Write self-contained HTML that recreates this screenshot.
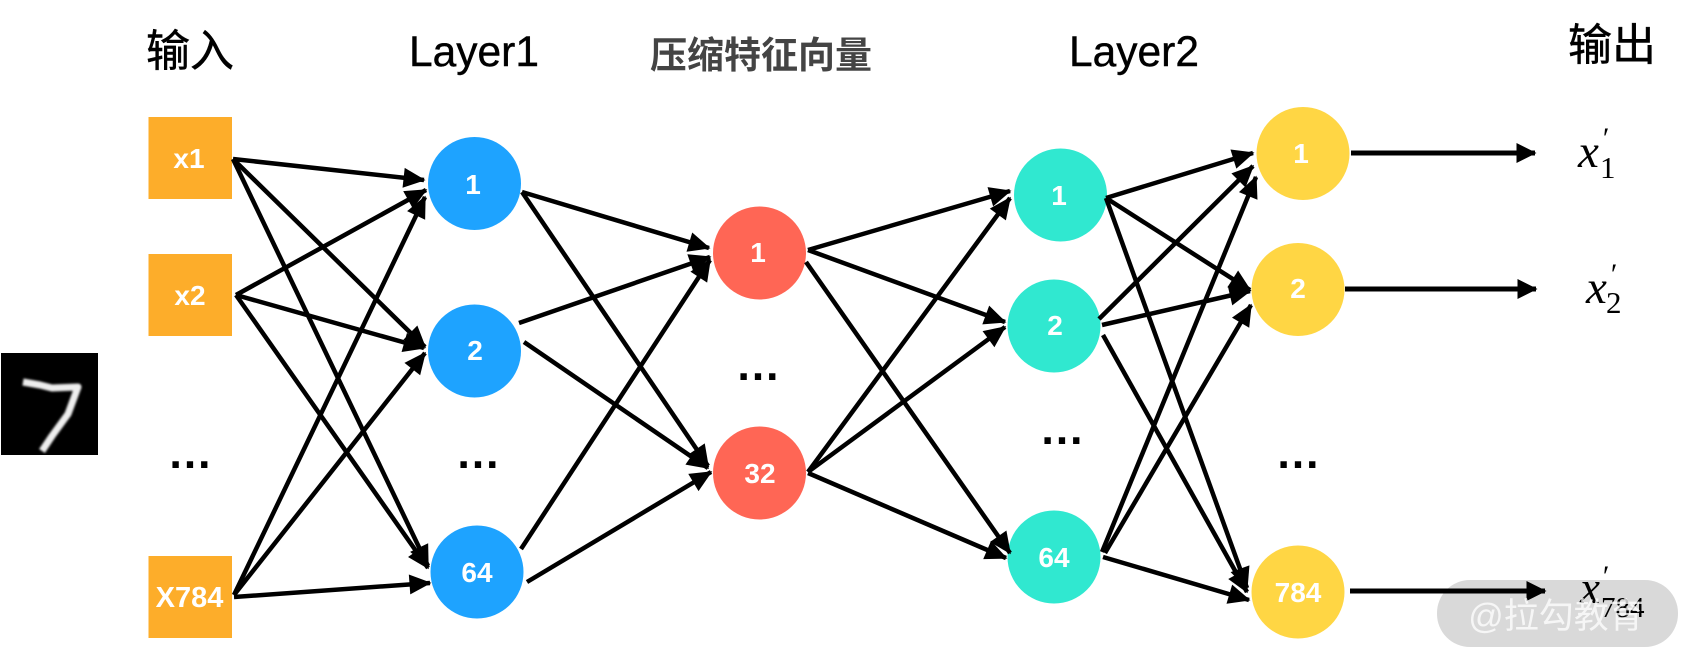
<!DOCTYPE html>
<html><head><meta charset="utf-8">
<style>
html,body{margin:0;padding:0;background:#fff;width:1700px;height:670px;overflow:hidden}
svg{display:block}
text{font-family:"Liberation Sans","Noto Sans CJK SC",sans-serif}
.n{font-weight:bold;fill:#fff;font-size:28px;text-anchor:middle}
.t{font-size:42.500px;fill:#000;stroke:#000;stroke-width:.4;text-anchor:middle}
.c{font-size:44px;fill:#000;stroke:#000;stroke-width:.5;text-anchor:middle}
.d{font-size:45px;font-weight:bold;fill:#000;text-anchor:middle}
.m{font-family:"Liberation Serif",serif}
line{stroke:#000;stroke-width:4.500;marker-end:url(#a)}
</style></head><body>
<svg width="1700" height="670" viewBox="0 0 1700 670" xmlns="http://www.w3.org/2000/svg">
<defs>
<marker id="a" markerUnits="userSpaceOnUse" markerWidth="24" markerHeight="22" refX="20.500" refY="11" orient="auto" overflow="visible"><path d="M0 1 L22 11 L0 21 Z" fill="#000"/></marker>
<marker id="b" markerUnits="userSpaceOnUse" markerWidth="22" markerHeight="22" refX="18.500" refY="11" orient="auto" overflow="visible"><path d="M0 1 L20 11 L0 21 Z" fill="#000"/></marker>
<filter id="s" x="-10%" y="-10%" width="120%" height="120%"><feGaussianBlur stdDeviation="1"/></filter>
</defs>

<rect x="1" y="353" width="97" height="102" fill="#000"/>
<path d="M23 382 L40 385 L52 388 L78 387 L68 414 L52 436 L42 451" fill="none" stroke="#eee" stroke-width="7" stroke-linejoin="round" filter="url(#s)"/>

<rect x="1437" y="580" width="241" height="67" rx="33" fill="#d9d9d9"/>

<rect x="148.500" y="117" width="83.500" height="82" fill="#fdad2a"/>
<rect x="148.500" y="254" width="83.500" height="82" fill="#fdad2a"/>
<rect x="148.500" y="556" width="83.500" height="82" fill="#fdad2a"/>

<ellipse cx="474.500" cy="183.500" rx="46.500" ry="46.500" fill="#1ea3ff"/>
<ellipse cx="474.500" cy="351" rx="46.500" ry="46.500" fill="#1ea3ff"/>
<ellipse cx="477" cy="572" rx="46.500" ry="46.500" fill="#1ea3ff"/>
<ellipse cx="759.500" cy="253" rx="46.500" ry="46.500" fill="#ff6655"/>
<ellipse cx="759.500" cy="473" rx="46.500" ry="46.500" fill="#ff6655"/>
<ellipse cx="1060.500" cy="195" rx="46.500" ry="46.500" fill="#30e8d0"/>
<ellipse cx="1054" cy="326" rx="46.500" ry="46.500" fill="#30e8d0"/>
<ellipse cx="1054" cy="557" rx="46.500" ry="46.500" fill="#30e8d0"/>
<ellipse cx="1303" cy="153.500" rx="46.500" ry="46.500" fill="#ffd644"/>
<ellipse cx="1298" cy="289.500" rx="46.500" ry="46.500" fill="#ffd644"/>
<ellipse cx="1298" cy="592" rx="46.500" ry="46.500" fill="#ffd644"/>

<line x1="233" y1="159" x2="424" y2="180"/>
<line x1="233" y1="159" x2="425" y2="347"/>
<line x1="233" y1="159" x2="428" y2="566"/>
<line x1="236" y1="295" x2="426" y2="190"/>
<line x1="236" y1="295" x2="424" y2="348"/>
<line x1="236" y1="295" x2="428" y2="568"/>
<line x1="234" y1="595" x2="425" y2="197"/>
<line x1="234" y1="595" x2="425" y2="353"/>
<line x1="234" y1="597" x2="430" y2="583"/>

<line x1="522" y1="192" x2="709" y2="248"/>
<line x1="522" y1="192" x2="708" y2="466"/>
<line x1="519" y1="323" x2="710" y2="257"/>
<line x1="524" y1="342" x2="708" y2="468"/>
<line x1="521" y1="549" x2="710" y2="260"/>
<line x1="527" y1="582" x2="711" y2="472"/>

<line x1="808" y1="250" x2="1010" y2="191"/>
<line x1="808" y1="250" x2="1005" y2="322"/>
<line x1="806" y1="262" x2="1010" y2="553"/>
<line x1="808" y1="472" x2="1010" y2="198"/>
<line x1="808" y1="472" x2="1005" y2="327"/>
<line x1="808" y1="473" x2="1006" y2="558"/>

<line x1="1106" y1="198" x2="1253" y2="153"/>
<line x1="1106" y1="198" x2="1250" y2="290"/>
<line x1="1106" y1="198" x2="1247" y2="588"/>
<line x1="1099" y1="319" x2="1253" y2="166"/>
<line x1="1102" y1="325" x2="1250" y2="291"/>
<line x1="1103" y1="335" x2="1247" y2="592"/>
<line x1="1102" y1="552" x2="1256" y2="177"/>
<line x1="1105" y1="553" x2="1251" y2="305"/>
<line x1="1103" y1="557" x2="1249" y2="600"/>

<line x1="1351" y1="153" x2="1535" y2="153" style="marker-end:url(#b);stroke-width:5"/>
<line x1="1345" y1="289" x2="1536" y2="289" style="marker-end:url(#b);stroke-width:5"/>
<line x1="1350" y1="591" x2="1545" y2="591" style="marker-end:url(#b);stroke-width:5"/>

<text class="c" x="190" y="66">输入</text>
<text class="t" x="474" y="66">Layer1</text>
<text x="761" y="68" font-size="37" font-weight="bold" fill="#444" text-anchor="middle">压缩特征向量</text>
<text class="t" x="1134" y="66">Layer2</text>
<text class="c" x="1612" y="60">输出</text>

<text class="n" x="189" y="168">x1</text>
<text class="n" x="190" y="305">x2</text>
<text class="n" x="189.500" y="607" style="font-size:29px">X784</text>
<text class="n" x="473" y="194">1</text>
<text class="n" x="475" y="360">2</text>
<text class="n" x="477" y="582">64</text>
<text class="n" x="758" y="262">1</text>
<text class="n" x="760" y="483">32</text>
<text class="n" x="1059" y="205">1</text>
<text class="n" x="1055" y="335">2</text>
<text class="n" x="1054" y="567">64</text>
<text class="n" x="1301" y="163">1</text>
<text class="n" x="1298" y="298">2</text>
<text class="n" x="1298" y="602">784</text>

<text class="d" x="190" y="468">…</text>
<text class="d" x="478" y="468">…</text>
<text class="d" x="758" y="380">…</text>
<text class="d" x="1062" y="444">…</text>
<text class="d" x="1298" y="468">…</text>

<text class="m" x="1578" y="167" font-size="47" font-style="italic">x</text>
<text class="m" x="1601" y="148" font-size="30" font-style="italic">′</text>
<text class="m" x="1600" y="178" font-size="31">1</text>
<text class="m" x="1586" y="303" font-size="47" font-style="italic">x</text>
<text class="m" x="1609" y="284" font-size="30" font-style="italic">′</text>
<text class="m" x="1606" y="313" font-size="31">2</text>
<text class="m" x="1580" y="603" font-size="45" font-style="italic">x</text>
<text class="m" x="1601" y="586" font-size="30" font-style="italic">′</text>
<text class="m" x="1601" y="617" font-size="29">784</text>

<text x="1556" y="628" font-size="35" fill="#fff" fill-opacity=".75" text-anchor="middle">@拉勾教育</text>
</svg>
</body></html>
